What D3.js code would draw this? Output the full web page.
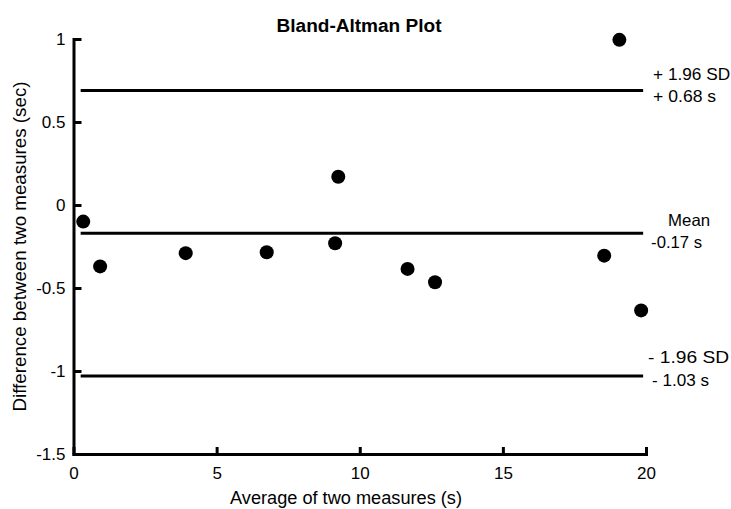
<!DOCTYPE html>
<html>
<head>
<meta charset="utf-8">
<script src="https://cdn.jsdelivr.net/npm/d3@7"></script>
<style>
  body { margin: 0; background: #fff; }
  svg text { font-family: Arial, "Liberation Sans", sans-serif; fill: #000; }
</style>
</head>
<body>
<svg id="chart"></svg>
<script>
// values
const avgValues  = [0.34, 0.93, 3.92, 6.75, 9.25, 9.14, 11.67, 12.63, 18.54, 19.07, 19.83];
const diffValues = [-0.10, -0.37, -0.29, -0.285, 0.17, -0.23, -0.385, -0.465, -0.305, 0.995, -0.635];
const xTicks = [0, 5, 10, 15, 20];
const yTicks = [1, 0.5, 0, -0.5, -1, -1.5];
const limitValues = [0.69, -0.17, -1.03];
const limitLabels = [["+ 1.96 SD", "+ 0.68 s"], ["Mean", "-0.17 s"], ["- 1.96 SD", "- 1.03 s"]];
const limitSpan = [0.25, 19.9];

const width = 731, height = 509;
const margin = {top: 39, right: 85, bottom: 55, left: 73.5};

const svg = d3.select('#chart')
    .attr('width', width)
    .attr('height', height);

const x = d3.scaleLinear()
    .domain([0, 20])
    .range([margin.left, width - margin.right]);

const y = d3.scaleLinear()
    .domain([-1.5, 1])
    .range([height - margin.bottom, margin.top]);

// title
svg.append('text')
    .attr('x', 359)
    .attr('y', 32)
    .attr('text-anchor', 'middle')
    .attr('textLength', 165)
    .attr('lengthAdjust', 'spacingAndGlyphs')
    .style('font-size', '18px')
    .style('font-weight', 'bold')
    .text('Bland-Altman Plot');

// axes, ticks pointing inward
const xAxisG = svg.append('g')
    .attr('transform', `translate(0,${y(-1.5)})`)
    .call(d3.axisBottom(x).tickValues(xTicks).tickSizeInner(-7).tickSizeOuter(0).tickPadding(13).tickFormat(d3.format('d')));

const yAxisG = svg.append('g')
    .attr('transform', `translate(${x(0)},0)`)
    .call(d3.axisLeft(y).tickValues(yTicks).tickSizeInner(-8).tickSizeOuter(0).tickPadding(8).tickFormat(d => d));

[xAxisG, yAxisG].forEach(g => {
    g.select('.domain').attr('stroke', '#000').attr('stroke-width', 3).attr('stroke-linecap', 'square');
    g.selectAll('.tick line').attr('stroke', '#000').attr('stroke-width', 3);
    g.selectAll('.tick text').style('font-size', '17px').attr('fill', '#000');
});

// limit lines
svg.selectAll('.limit')
    .data(limitValues)
    .enter()
  .append('line')
    .attr('class', 'limit')
    .attr('x1', x(limitSpan[0]))
    .attr('x2', x(limitSpan[1]))
    .attr('y1', d => y(d))
    .attr('y2', d => y(d))
    .attr('stroke', '#000')
    .attr('stroke-width', 3);

// labels to the right of the lines: [dx, dy, width] for upper and lower text
const labelLayout = [
    [[10, -10, 77], [10, 11.5, 63]],
    [[25, -7.5, 42], [8, 15, 51]],
    [[5, -12.5, 81], [9, 10.5, 57]]
];
limitValues.forEach((v, i) => {
    const x0 = x(limitSpan[1]);
    limitLabels[i].forEach((txt, j) => {
        const [dx, dy, w] = labelLayout[i][j];
        svg.append('text')
            .attr('x', x0 + dx)
            .attr('y', y(v) + dy)
            .attr('textLength', w)
            .attr('lengthAdjust', 'spacingAndGlyphs')
            .style('font-size', '16.5px')
            .text(txt);
    });
});

// points
svg.selectAll('.dot')
    .data(avgValues.map((a, i) => ({avg: a, diff: diffValues[i]})))
    .enter()
  .append('circle')
    .attr('class', 'dot')
    .attr('cx', d => x(d.avg))
    .attr('cy', d => y(d.diff))
    .attr('r', 7)
    .attr('fill', '#000');

// axis titles
svg.append('text')
    .attr('x', 346)
    .attr('y', 504)
    .attr('text-anchor', 'middle')
    .attr('textLength', 232)
    .attr('lengthAdjust', 'spacingAndGlyphs')
    .style('font-size', '17.5px')
    .text('Average of two measures (s)');

svg.append('text')
    .attr('transform', `translate(26,${(y(1) + y(-1.5)) / 2}) rotate(-90)`)
    .attr('text-anchor', 'middle')
    .attr('textLength', 330)
    .attr('lengthAdjust', 'spacingAndGlyphs')
    .style('font-size', '17.5px')
    .text('Difference between two measures (sec)');
</script>
</body>
</html>
